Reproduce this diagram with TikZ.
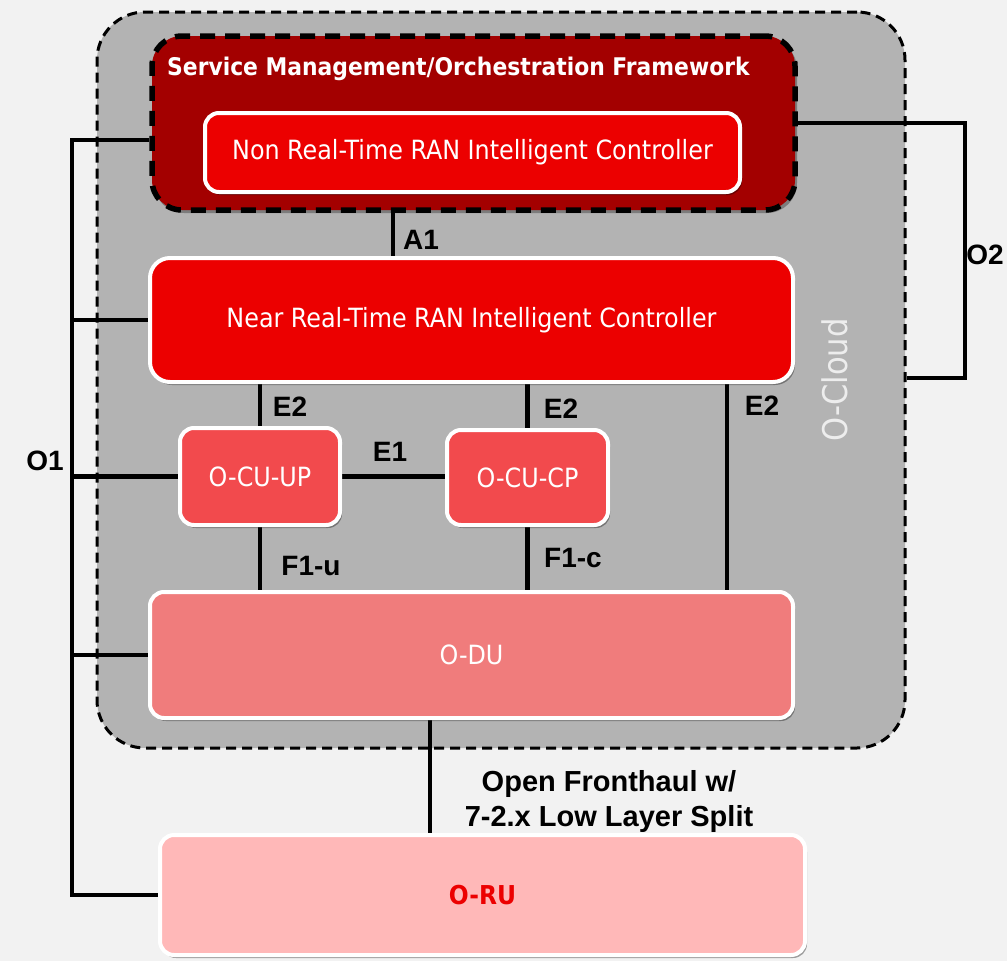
\documentclass[tikz,border=0pt]{standalone}
\usepackage{fontspec}
\setmainfont{Liberation Sans}
\newfontfamily\boxfont{DejaVu Sans Condensed}
\usetikzlibrary{calc,shadows}
\pgfdeclarelayer{bg}
\pgfdeclarelayer{mid}
\pgfsetlayers{bg,mid,main}
\definecolor{pagebg}{HTML}{F2F2F2}
\definecolor{cloudgray}{HTML}{B3B3B3}
\definecolor{smored}{HTML}{A30000}
\definecolor{ricred}{HTML}{EC0000}
\definecolor{cured}{HTML}{F24A4D}
\definecolor{dured}{HTML}{F07C7C}
\definecolor{rupink}{HTML}{FFB8B8}
\definecolor{cloudtext}{HTML}{EDEDED}
\tikzset{
  box/.style={rectangle, rounded corners=14pt, draw=white, line width=4pt, inner sep=0pt,
    text=white, font=\boxfont\fontsize{26.5}{30}\selectfont,
    drop shadow={shadow xshift=2pt, shadow yshift=-3pt, opacity=0.35, fill=black}},
  link/.style={draw=black, line width=4.5pt},
  lbl/.style={font=\bfseries\fontsize{28}{32}\selectfont, text=black, inner sep=0pt},
}
\begin{document}
\begin{tikzpicture}[x=1pt, y=-1pt]
\useasboundingbox (0,0) rectangle (1007,961);

% O-Cloud
\begin{pgfonlayer}{bg}
\fill[pagebg] (0,0) rectangle (1007,961);
\node[rectangle, rounded corners=48pt, fill=cloudgray, draw=black, line width=3pt,
  dash pattern=on 10pt off 6pt, minimum width=808pt, minimum height=736pt,
  inner sep=0pt] (cloud) at (501,380) {};
\node[rotate=90, font=\boxfont\fontsize{34}{38}\selectfont, text=cloudtext, inner sep=0pt]
  (cloudlbl) at (835,380) {O-Cloud};
\end{pgfonlayer}

% SMO
\node[rectangle, rounded corners=30pt, fill=smored, draw=black, line width=5.5pt,
  dash pattern=on 15pt off 10pt, minimum width=643pt, minimum height=174pt, inner sep=0pt,
  drop shadow={shadow xshift=2pt, shadow yshift=-3pt, opacity=0.3, fill=black}]
  (smo) at (473.5,123) {};
\node[anchor=west, inner sep=0pt, text=white, font=\boxfont\bfseries\fontsize{24.3}{28}\selectfont]
  (smolbl) at (167,69) {Service Management/Orchestration Framework};

\node[box, fill=ricred, minimum width=535pt, minimum height=79pt] (nonrt) at (472.5,152.5)
  {Non Real-Time RAN Intelligent Controller};
\node[box, fill=ricred, rounded corners=20pt, minimum width=643pt, minimum height=124pt] (nearrt) at (471.5,320)
  {Near Real-Time RAN Intelligent Controller};
\node[box, fill=cured, minimum width=160pt, minimum height=97pt] (cuup) at (260,476.5) {O-CU-UP};
\node[box, fill=cured, minimum width=161pt, minimum height=95pt] (cucp) at (527.5,477.5) {O-CU-CP};
\node[box, fill=dured, minimum width=643pt, minimum height=126pt] (odu) at (471.5,655) {O-DU};
\node[box, fill=rupink, text=ricred, minimum width=645pt, minimum height=120pt,
  font=\boxfont\bfseries\fontsize{26}{30}\selectfont] (oru) at (482.5,895) {O-RU};

% helper coordinates
\coordinate (a1x) at (393,0);
\coordinate (e2x) at (727,0);
\coordinate (fhx) at (430,0);
\coordinate (o1top) at (72,140);
\coordinate (o2) at (965,378);

\begin{pgfonlayer}{mid}
\draw[link] (smo.south -| a1x) -- (nearrt.north -| a1x);
\draw[link] (nearrt.south -| cuup) -- (cuup.north);
\draw[link] (nearrt.south -| cucp) -- (cucp.north);
\draw[link] (nearrt.south -| e2x) -- (odu.north -| e2x);
\draw[link] (cuup.east) -- (cuup.east -| cucp.west);
\draw[link] (cuup.south) -- (odu.north -| cuup);
\draw[link] (cucp.south) -- (odu.north -| cucp);
\draw[link] (odu.south -| fhx) -- (oru.north -| fhx);
% O1 bus
\draw[link] (smo.west |- o1top) -- (o1top) |- (oru.west);
\draw[link] (nearrt.west) -- (nearrt.west -| o1top);
\draw[link] (cuup.west) -- (cuup.west -| o1top);
\draw[link] (odu.west) -- (odu.west -| o1top);
% O2
\draw[link] (smo.east) -| (o2) -- (o2 -| cloud.east);
\end{pgfonlayer}

% labels
\node[lbl] (la1) at (421,240) {A1};
\node[lbl] (le2a) at (290,407) {E2};
\node[lbl] (le2b) at (561,409) {E2};
\node[lbl] (le2c) at (762,406) {E2};
\node[lbl] (le1) at (390,452) {E1};
\node[lbl] (lf1u) at (311,566) {F1-u};
\node[lbl] (lf1c) at (573,558) {F1-c};
\node[lbl] (lo1) at (45,461) {O1};
\node[lbl] (lo2) at (985,255) {O2};
\node[lbl, align=center, font=\bfseries\fontsize{29}{35}\selectfont] (lfh) at (609,801)
  {Open Fronthaul w/\\7-2.x Low Layer Split};
\end{tikzpicture}
\end{document}
